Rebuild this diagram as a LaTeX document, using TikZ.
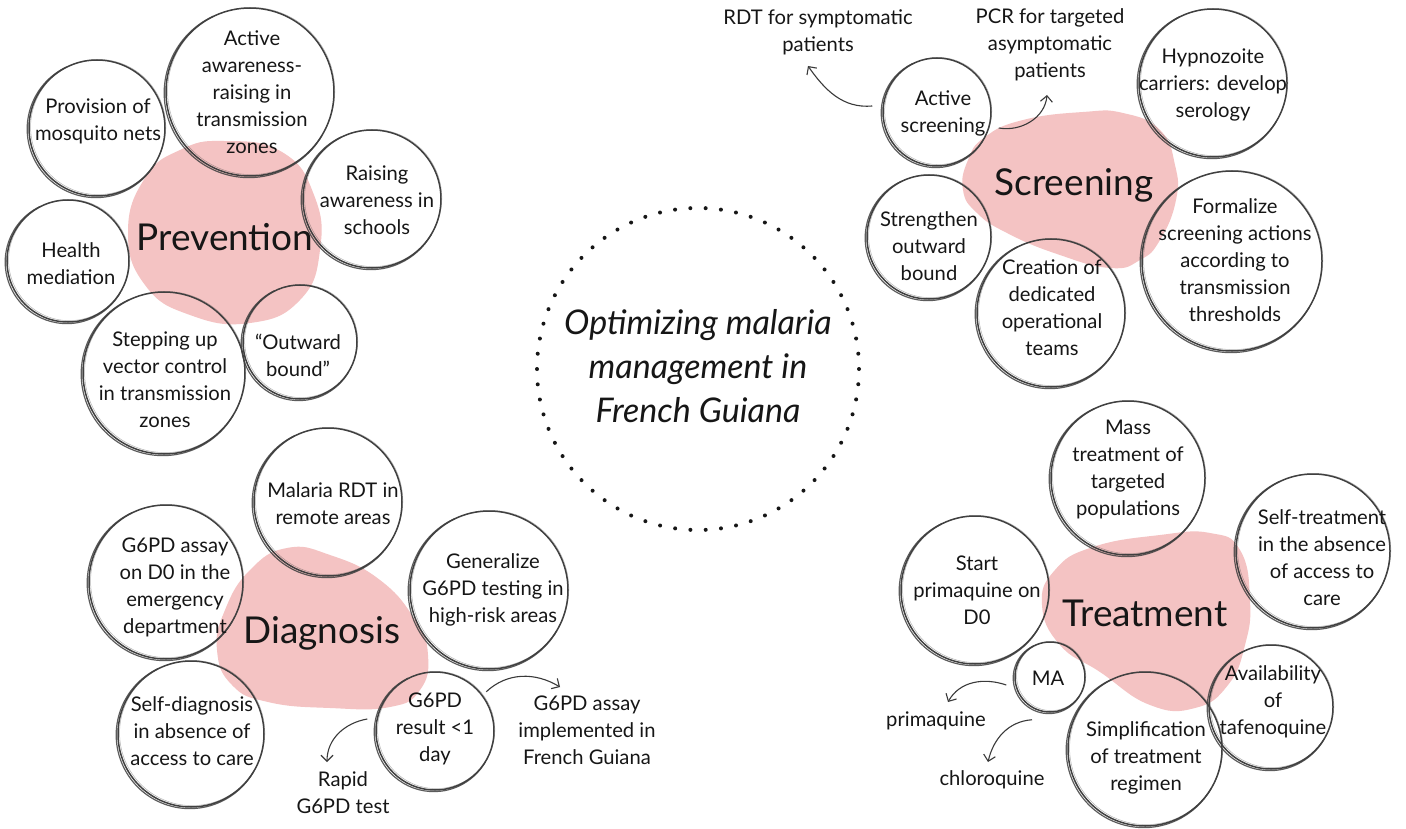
\documentclass[tikz,border=0pt]{standalone}
\usepackage{fontspec}
\setmainfont{Lato}
\usetikzlibrary{arrows.meta}

\definecolor{ink}{HTML}{161616}
\definecolor{rim}{HTML}{404040}
\definecolor{blush}{HTML}{F4C3C3}
\definecolor{arrowgrey}{HTML}{3A3A3A}

\tikzset{
  bubble/.style={circle, draw=rim, line width=1.5pt, inner sep=0pt},
  rimbold/.style={draw=rim, line width=1.2pt, opacity=0.85},
  rimlight/.style={draw=rim, line width=0.5pt, opacity=0.4},
  body/.style={align=center, text=ink, inner sep=0pt, font=\fontsize{20.2}{27}\selectfont},
  head/.style={text=ink, inner sep=0pt, font=\fontsize{37}{42}\selectfont},
  title/.style={align=center, text=ink, inner sep=0pt, font=\itshape\fontsize{34}{44}\selectfont},
  dotring/.style={circle, draw=ink, line width=4pt, line cap=round,
                  dash pattern=on 0pt off 15.33pt, inner sep=0pt},
  link/.style={draw=arrowgrey, line width=1.1pt, -{Straight Barb[length=6pt,width=12pt]}},
}

% sketchy bubble: name, centre x, centre y, radius, text x, text y, text
\newcommand{\bubble}[7]{%
  \node[bubble, minimum size=2*#4pt] (#1) at (#2,-#3) {};
  \draw[rimbold] (#2-1.2,-#3-1.0) ++(115:{#4+0.6}) arc[start angle=115, end angle=330, radius={#4+0.6}];
  \draw[rimlight] (#2+1.2,-#3+1.0) ++(0:{#4-0.4}) arc[start angle=0, end angle=360, radius={#4-0.4}];
  \node[body] (#1-t) at (#5,-#6) {#7};
}

\begin{document}
\begin{tikzpicture}[x=1pt, y=1pt]
\useasboundingbox (0,0) rectangle (1406,-829);
\fill[white] (0,0) rectangle (1406,-829);

% pink blobs behind each theme
\fill[blush] plot[smooth cycle, tension=0.8] coordinates {
  (224,-141) (282,-152) (314,-195) (320,-250) (300,-300) (250,-323)
  (190,-315) (145,-285) (128,-232) (145,-178) (180,-150)};
\fill[blush] plot[smooth cycle, tension=0.8] coordinates {
  (963,-190) (968,-160) (985,-137) (1023,-120) (1083,-112) (1123,-113)
  (1160,-130) (1175,-165) (1176,-200) (1160,-240) (1140,-260) (1110,-268)
  (1057,-254) (1007,-233) (977,-213)};
\fill[blush] plot[smooth cycle, tension=0.8] coordinates {
  (287,-548) (330,-555) (380,-580) (415,-620) (428,-655) (420,-690)
  (390,-707) (330,-708) (268,-702) (232,-685) (217,-650) (225,-610) (250,-570)};
\fill[blush] plot[smooth cycle, tension=0.8] coordinates {
  (1042,-605) (1055,-570) (1093,-547) (1160,-535) (1210,-533) (1240,-550)
  (1250,-600) (1245,-645) (1228,-685) (1195,-708) (1150,-705) (1100,-672) (1060,-645)};

% central theme
\node[dotring, minimum size=322pt] (core) at (698,-369) {};
\node[title] (core-t) at (698,-366) {Optimizing malaria\\management in\\French Guiana};

% Prevention
\bubble{prov}{97}{128}{68}{98}{121}{Provision of\\mosquito nets}
\bubble{aware}{250}{92}{84}{252}{92}{Active\\awareness-\\raising in\\transmission\\zones}
\bubble{school}{372}{199}{69}{377}{200}{Raising\\awareness in\\schools}
\bubble{health}{68}{261}{61}{71}{264}{Health\\mediation}
\bubble{vector}{164}{373}{81}{165}{380}{Stepping up\\vector control\\in transmission\\zones}
\bubble{outward}{300}{342}{57}{298}{355}{“Outward\\bound”}
\node[head] (prev) at (225,-237) {Prevention};

% Screening
\bubble{act}{937}{112}{54}{943}{113}{Active\\screening}
\bubble{hypno}{1213}{83}{74}{1213}{85}{Hypnozoite\\carriers: develop\\serology}
\bubble{strength}{929}{237}{62}{929}{246}{Strengthen\\outward\\bound}
\bubble{teams}{1051}{313}{74}{1052}{308}{Creation of\\dedicated\\operational\\teams}
\bubble{formal}{1232}{261}{90}{1235}{260}{Formalize\\screening actions\\according to\\transmission\\thresholds}
\node[head] (screen) at (1074,-185) {Screening};
\node[body] (rdt) at (818,-32) {RDT for symptomatic\\patients};
\node[body] (pcr) at (1050,-45) {PCR for targeted\\asymptomatic\\patients};
\draw[link] ([shift={(-10,6)}]act.west) to[out=185, in=-55] ([shift={(-10,-34)}]rdt.center);
\draw[link] ([shift={(7,-16)}]act.east) to[out=-10, in=-95] ([shift={(-3,-50)}]pcr.center);

% Diagnosis
\bubble{rdtremote}{328}{502}{74}{333}{504}{Malaria RDT in\\remote areas}
\bubble{assay}{166}{582}{77}{175}{587}{G6PD assay\\on D0 in the\\emergency\\department}
\bubble{selfdx}{191}{734}{73}{192}{731}{Self-diagnosis\\in absence of\\access to care}
\bubble{general}{489}{590}{79}{493}{590}{Generalize\\G6PD testing in\\high-risk areas}
\bubble{result}{435}{731}{59}{435}{729}{G6PD\\result <1\\day}
\node[head] (diag) at (322,-633) {Diagnosis};
\node[body] (rapid) at (343,-793) {Rapid\\G6PD test};
\node[body] (impl) at (587,-730) {G6PD assay\\implemented in\\French Guiana};
\draw[link] ([shift={(-8,12)}]result.west) to[out=190, in=90] ([shift={(-16,31)}]rapid.center);
\draw[link] ([shift={(9,-3)}]result.45) to[out=43, in=149] ([shift={(-27,43)}]impl.center);

% Treatment
\bubble{mass}{1128}{478}{77}{1128}{469}{Mass\\treatment of\\targeted\\populations}
\bubble{startpq}{975}{590}{74}{977}{590}{Start\\primaquine on\\D0}
\bubble{ma}{1050}{677}{35}{1048}{678}{MA}
\bubble{selftx}{1313}{551}{77}{1322}{558}{Self-treatment\\in the absence\\of access to\\care}
\bubble{avail}{1271}{707}{62}{1273}{702}{Availability\\of\\tafenoquine}
\bubble{simp}{1145}{749}{77}{1146}{758}{Simplification\\of treatment\\regimen}
\node[head] (treat) at (1145,-613) {Treatment};
\node[body] (pq) at (936,-721) {primaquine};
\node[body] (cq) at (992,-780) {chloroquine};
\draw[link] ([shift={(-8,-8)}]ma.west) to[out=161, in=61] ([shift={(12,19)}]pq.center);
\draw[link] ([shift={(-18,-7)}]ma.south) to[out=184, in=77] ([shift={(-4,18)}]cq.center);
\end{tikzpicture}
\end{document}
